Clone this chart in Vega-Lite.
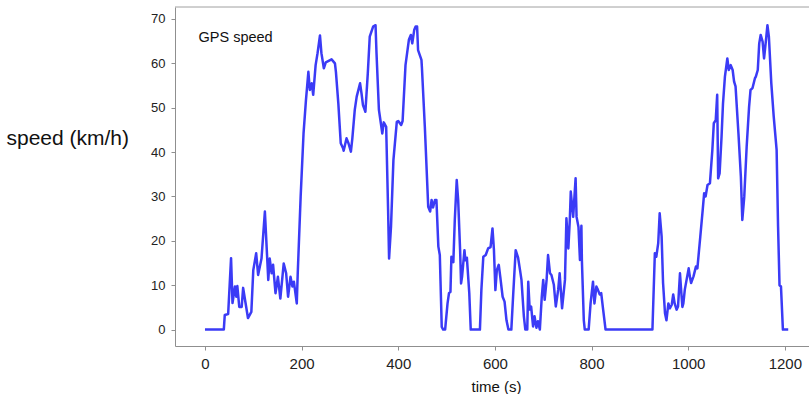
{
  "$schema": "https://vega.github.io/schema/vega-lite/v6.json",
  "width": 634,
  "height": 339,
  "autosize": {"type": "none"},
  "padding": {"left": 175, "top": 7, "right": 0, "bottom": 48},
  "config": {
    "view": {"stroke": null},
    "font": "Liberation Sans",
    "axis": {"grid": false, "domainColor": "#8f8f8f", "tickColor": "#8f8f8f", "tickSize": 4, "labelColor": "#222222", "titleColor": "#111111", "titleFontWeight": "normal"}
  },
  "layer": [
    {
      "data": {"values": [{}]},
      "mark": {"type": "rule", "color": "#a0a0a0", "strokeWidth": 1},
      "encoding": {"y": {"datum": 72.7, "type": "quantitative"}}
    },
    {
      "data": {"values": [
        {"t":0,"v":0},{"t":39,"v":0},{"t":41,"v":3.3},{"t":48,"v":3.5},{"t":54,"v":16.1},{"t":57,"v":6.0},{"t":62,"v":9.7},{"t":65,"v":7.4},{"t":67,"v":9.8},{"t":71,"v":5.1},{"t":76,"v":5.1},{"t":79,"v":9.4},{"t":84,"v":6.0},{"t":89,"v":2.6},{"t":96,"v":4.0},{"t":100,"v":13.4},{"t":106,"v":17.2},{"t":110,"v":12.3},{"t":117,"v":16.0},{"t":124,"v":26.6},{"t":131,"v":11.2},{"t":134,"v":16.0},{"t":138,"v":12.7},{"t":141,"v":14.6},{"t":146,"v":8.2},{"t":151,"v":11.9},{"t":156,"v":7.0},{"t":163,"v":14.9},{"t":168,"v":12.7},{"t":172,"v":7.4},{"t":177,"v":11.9},{"t":181,"v":9.7},{"t":184,"v":10.8},{"t":190,"v":5.9},{"t":192,"v":12.7},{"t":198,"v":29.9},{"t":204,"v":44.2},{"t":209,"v":51.7},{"t":214,"v":58.1},{"t":217,"v":54.0},{"t":221,"v":55.5},{"t":224,"v":52.9},{"t":229,"v":59.6},{"t":233,"v":62.3},{"t":238,"v":66.3},{"t":241,"v":62.3},{"t":246,"v":58.9},{"t":250,"v":60.2},{"t":257,"v":60.6},{"t":262,"v":60.9},{"t":269,"v":60.0},{"t":271,"v":58.1},{"t":276,"v":51.0},{"t":281,"v":42.0},{"t":286,"v":40.8},{"t":287,"v":40.3},{"t":293,"v":43.1},{"t":297,"v":42.0},{"t":302,"v":40.1},{"t":305,"v":43.1},{"t":310,"v":49.5},{"t":314,"v":52.5},{"t":321,"v":55.5},{"t":324,"v":53.2},{"t":327,"v":50.6},{"t":332,"v":49.1},{"t":337,"v":57.8},{"t":341,"v":66.0},{"t":348,"v":68.3},{"t":353,"v":68.6},{"t":355,"v":62.3},{"t":360,"v":49.5},{"t":364,"v":46.5},{"t":367,"v":44.2},{"t":370,"v":46.7},{"t":375,"v":45.7},{"t":379,"v":26.9},{"t":381,"v":16.0},{"t":385,"v":23.2},{"t":390,"v":38.2},{"t":397,"v":46.8},{"t":400,"v":47.0},{"t":406,"v":46.1},{"t":409,"v":47.0},{"t":415,"v":59.6},{"t":422,"v":65.3},{"t":426,"v":66.4},{"t":429,"v":64.5},{"t":433,"v":67.5},{"t":436,"v":68.3},{"t":439,"v":68.3},{"t":441,"v":63.0},{"t":448,"v":60.8},{"t":449,"v":59.0},{"t":455,"v":45.7},{"t":462,"v":27.7},{"t":466,"v":26.6},{"t":469,"v":29.2},{"t":472,"v":27.5},{"t":476,"v":29.2},{"t":479,"v":29.2},{"t":483,"v":18.7},{"t":486,"v":16.8},{"t":490,"v":0.6},{"t":493,"v":0},{"t":497,"v":0},{"t":502,"v":5.9},{"t":505,"v":8.2},{"t":508,"v":8.5},{"t":510,"v":16.4},{"t":514,"v":15.2},{"t":517,"v":24.7},{"t":521,"v":33.7},{"t":524,"v":29.2},{"t":528,"v":17.9},{"t":530,"v":10.4},{"t":532,"v":11.9},{"t":537,"v":17.9},{"t":539,"v":15.6},{"t":542,"v":16.2},{"t":547,"v":8.2},{"t":550,"v":0},{"t":569,"v":0},{"t":572,"v":8.9},{"t":576,"v":16.4},{"t":581,"v":16.8},{"t":586,"v":18.3},{"t":591,"v":18.6},{"t":595,"v":22.8},{"t":598,"v":18.0},{"t":601,"v":8.9},{"t":604,"v":13.4},{"t":608,"v":14.6},{"t":611,"v":12.0},{"t":616,"v":7.4},{"t":620,"v":6.3},{"t":624,"v":2.1},{"t":628,"v":0},{"t":634,"v":0},{"t":638,"v":8.2},{"t":643,"v":17.9},{"t":648,"v":16.2},{"t":652,"v":13.4},{"t":655,"v":11.2},{"t":660,"v":2.9},{"t":663,"v":0},{"t":667,"v":0},{"t":669,"v":10.8},{"t":672,"v":4.5},{"t":675,"v":5.2},{"t":679,"v":0.7},{"t":682,"v":3.0},{"t":686,"v":0.4},{"t":689,"v":1.9},{"t":693,"v":0},{"t":697,"v":7.4},{"t":700,"v":11.2},{"t":703,"v":6.7},{"t":707,"v":11.2},{"t":710,"v":16.8},{"t":714,"v":12.7},{"t":717,"v":12.3},{"t":722,"v":10.1},{"t":726,"v":5.2},{"t":731,"v":9.0},{"t":734,"v":12.7},{"t":739,"v":4.8},{"t":745,"v":11.2},{"t":748,"v":25.1},{"t":752,"v":18.3},{"t":755,"v":24.7},{"t":757,"v":31.1},{"t":762,"v":25.4},{"t":767,"v":34.1},{"t":769,"v":25.4},{"t":773,"v":23.1},{"t":776,"v":15.7},{"t":779,"v":23.4},{"t":780,"v":15.7},{"t":784,"v":2.1},{"t":786,"v":0},{"t":794,"v":0},{"t":798,"v":5.9},{"t":803,"v":10.8},{"t":806,"v":5.9},{"t":810,"v":9.7},{"t":813,"v":9.0},{"t":817,"v":7.9},{"t":820,"v":8.2},{"t":824,"v":4.5},{"t":829,"v":0},{"t":926,"v":0},{"t":931,"v":17.2},{"t":934,"v":16.4},{"t":938,"v":19.5},{"t":941,"v":26.2},{"t":945,"v":21.0},{"t":948,"v":10.5},{"t":952,"v":3.7},{"t":955,"v":2.1},{"t":959,"v":5.9},{"t":962,"v":4.8},{"t":966,"v":5.6},{"t":969,"v":7.9},{"t":972,"v":5.9},{"t":976,"v":4.5},{"t":979,"v":5.2},{"t":983,"v":12.7},{"t":986,"v":8.0},{"t":988,"v":5.1},{"t":990,"v":5.9},{"t":993,"v":9.0},{"t":1001,"v":13.8},{"t":1004,"v":11.6},{"t":1006,"v":10.5},{"t":1011,"v":12.0},{"t":1016,"v":14.2},{"t":1019,"v":13.8},{"t":1025,"v":20.9},{"t":1030,"v":26.9},{"t":1033,"v":30.7},{"t":1036,"v":30.0},{"t":1040,"v":32.6},{"t":1045,"v":33.0},{"t":1050,"v":40.5},{"t":1053,"v":46.5},{"t":1057,"v":47.2},{"t":1060,"v":52.9},{"t":1062,"v":34.1},{"t":1065,"v":35.2},{"t":1069,"v":43.4},{"t":1072,"v":50.9},{"t":1076,"v":57.0},{"t":1081,"v":61.1},{"t":1084,"v":58.5},{"t":1088,"v":59.6},{"t":1092,"v":58.5},{"t":1095,"v":55.9},{"t":1098,"v":54.8},{"t":1104,"v":44.2},{"t":1109,"v":34.5},{"t":1112,"v":24.7},{"t":1116,"v":29.9},{"t":1121,"v":41.2},{"t":1126,"v":50.2},{"t":1129,"v":54.0},{"t":1133,"v":54.4},{"t":1138,"v":56.6},{"t":1140,"v":57.0},{"t":1144,"v":58.5},{"t":1147,"v":64.5},{"t":1150,"v":66.4},{"t":1154,"v":64.9},{"t":1157,"v":61.1},{"t":1161,"v":65.3},{"t":1164,"v":68.6},{"t":1167,"v":66.0},{"t":1172,"v":55.5},{"t":1177,"v":48.0},{"t":1183,"v":40.5},{"t":1186,"v":23.2},{"t":1189,"v":10.0},{"t":1192,"v":9.7},{"t":1196,"v":0},{"t":1207,"v":0}
      ]},
      "transform": [{"calculate": "'GPS speed'", "as": "series"}],
      "mark": {"type": "line", "strokeWidth": 2.5, "strokeJoin": "round"},
      "encoding": {
        "x": {"field": "t", "type": "quantitative", "scale": {"domain": [-62, 1250], "nice": false, "zero": false},
              "axis": {"values": [0, 200, 400, 600, 800, 1000, 1200], "format": "d", "title": "time (s)", "labelFontSize": 15, "labelPadding": 6, "titleFontSize": 15, "titlePadding": 8, "titleX": 321, "titleAlign": "center"}},
        "y": {"field": "v", "type": "quantitative", "scale": {"domain": [-3.7, 72.7], "nice": false, "zero": false},
              "axis": {"values": [0, 10, 20, 30, 40, 50, 60, 70], "title": "speed (km/h)", "labelFontSize": 13, "labelPadding": 6, "titleFontSize": 21, "titleAngle": 0, "titleAlign": "left", "titleBaseline": "middle", "titleX": -169, "titleY": 131}},
        "color": {"field": "series", "type": "nominal", "scale": {"domain": ["GPS speed"], "range": ["#3b3bf6"]},
                  "legend": {"title": null, "orient": "none", "legendX": 7, "legendY": 24, "symbolOpacity": 0, "symbolSize": 1, "labelFontSize": 14.5, "labelColor": "#111111", "labelOffset": 2, "padding": 0}}
      }
    }
  ]
}
